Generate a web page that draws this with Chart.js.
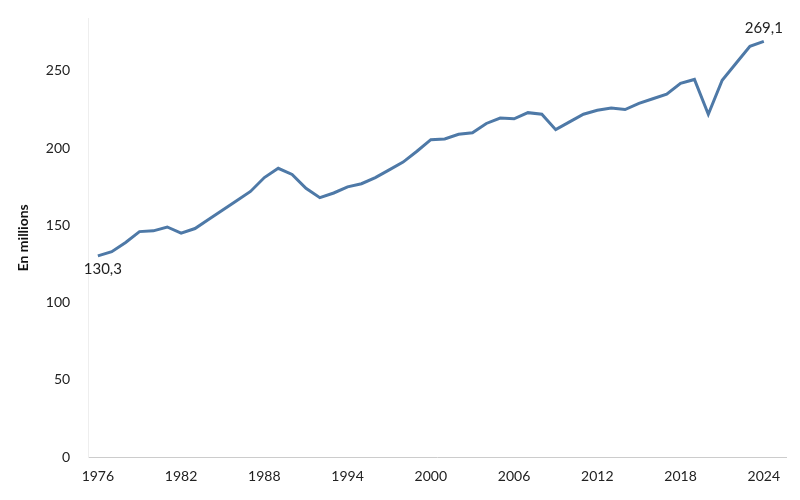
<!DOCTYPE html><html><head><meta charset="utf-8">
<script src="https://cdn.jsdelivr.net/npm/chart.js@4"></script>
<style>body{margin:0;background:#fff}#w{width:800px;height:500px}</style></head><body><div id="w"><canvas id="c"></canvas></div>
<script>
const years=[];for(let y=1976;y<=2024;y++)years.push(y);
const values=[130.3,133,139,146,146.5,149,145,148,154,160,166,172,181,187,183,174,168,171,175,177,181,186,191,198,205.5,206,209,210,216,219.5,219,223,222,212,217,222,224.5,226,225,229,232,235,242,244.5,222,244,255,266,269.1];
const endLabels={0:"130,3",48:"269,1"};
const lbl={id:'lbl',afterDatasetsDraw(ch){const ctx=ch.ctx;const m=ch.getDatasetMeta(0);ctx.save();ctx.font='15px Lato';ctx.fillStyle='#222';
for(const k in endLabels){const p=m.data[k];if(+k===0){ctx.textAlign='center';ctx.textBaseline='top';ctx.fillText(endLabels[k],p.x+5,p.y+6);}else{ctx.textAlign='center';ctx.textBaseline='bottom';ctx.fillText(endLabels[k],p.x,p.y-6);}}ctx.restore();}};
new Chart(document.getElementById('c'),{type:'line',data:{datasets:[{data:years.map((y,i)=>({x:y,y:values[i]})),borderColor:'#4e79a7',borderWidth:3,pointRadius:0,tension:0}]},
options:{responsive:true,maintainAspectRatio:false,animation:false,layout:{padding:{top:4,right:14,left:11,bottom:12}},
plugins:{legend:{display:false},tooltip:{enabled:false}},
scales:{x:{type:'linear',min:1975.3,max:2025.6,afterBuildTicks(s){s.ticks=[1976,1982,1988,1994,2000,2006,2012,2018,2024].map(v=>({value:v}));},
ticks:{autoSkip:false,maxRotation:0,color:'#222',font:{family:'Lato',size:14},callback:v=>String(v)},grid:{display:false},border:{color:'#ccc'}},
y:{min:0,max:284,afterBuildTicks(s){s.ticks=[0,50,100,150,200,250].map(v=>({value:v}));},ticks:{color:'#222',font:{family:'Lato',size:14},padding:10},grid:{display:false},border:{color:'#eee'},
title:{display:true,text:'En millions',color:'#111',font:{family:'Lato',size:14,weight:'bold'}}}}},plugins:[lbl]});
</script></body></html>
